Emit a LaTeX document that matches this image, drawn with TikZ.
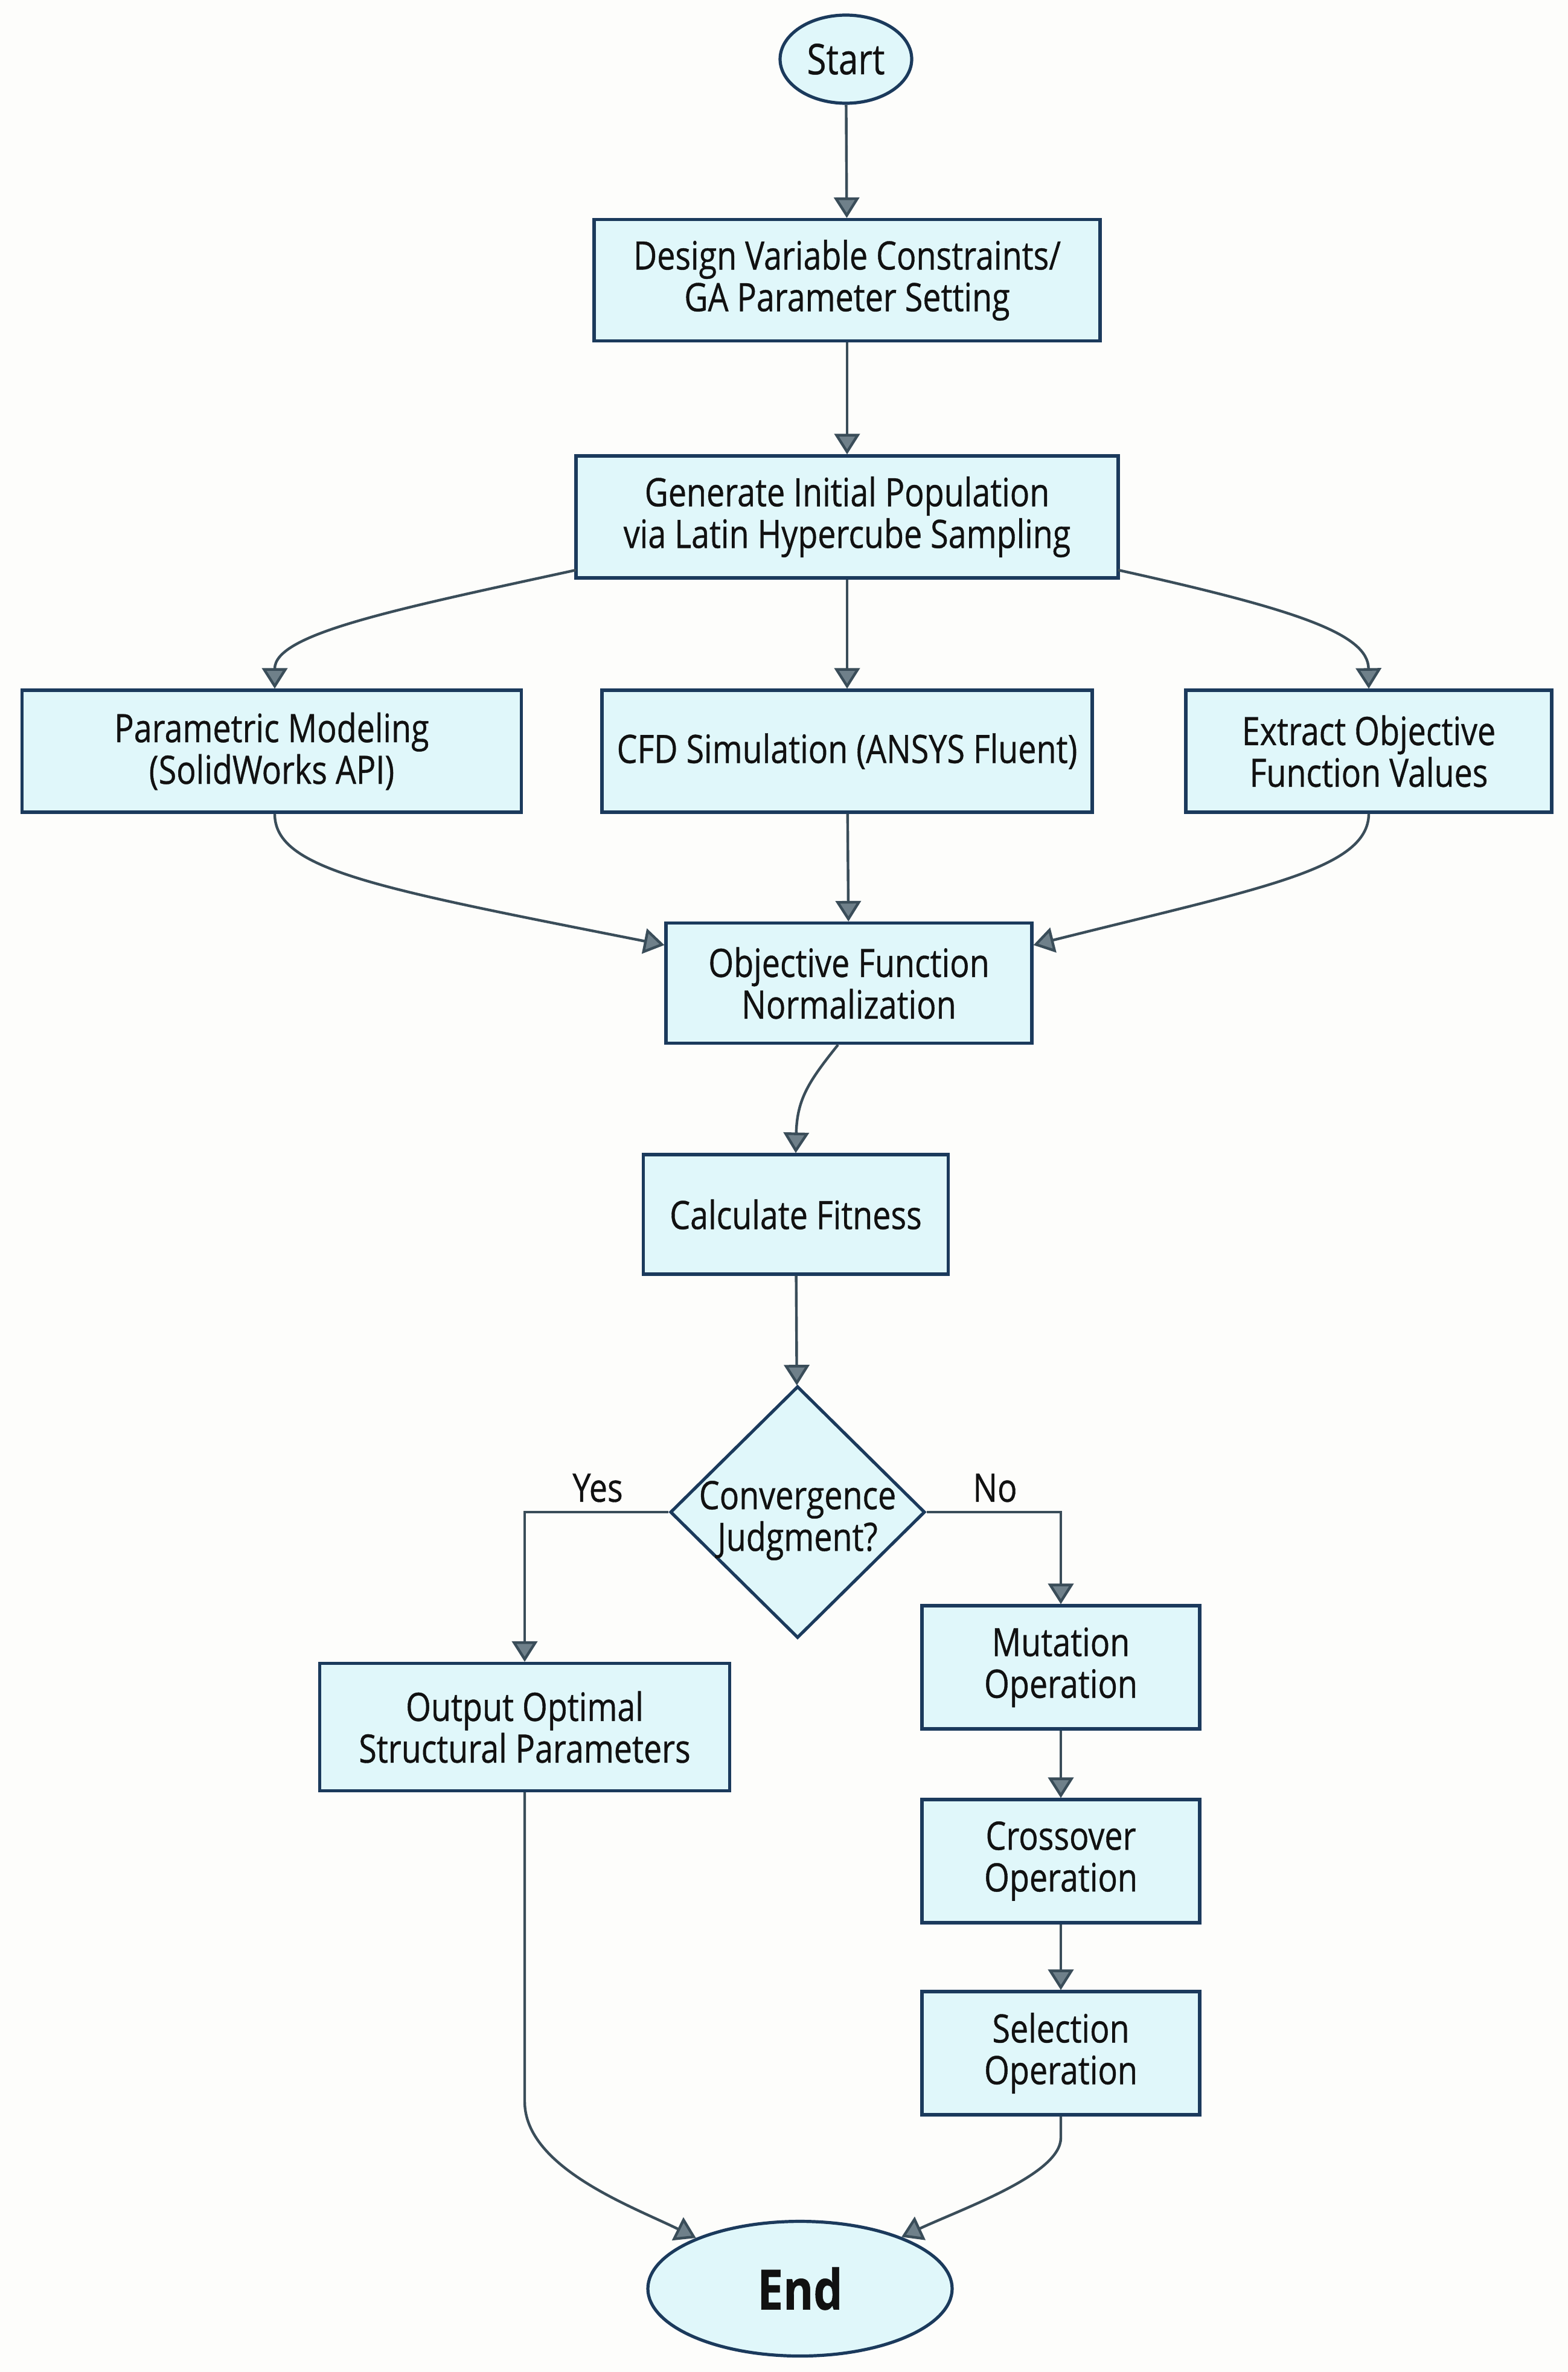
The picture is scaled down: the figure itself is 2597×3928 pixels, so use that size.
\documentclass[tikz,border=0pt]{standalone}
\usepackage{fontspec}
\setmainfont{Open Sans}[FakeStretch=0.83,FakeBold=0.6]
\usetikzlibrary{shapes.geometric,arrows.meta,calc}
\definecolor{boxfill}{HTML}{E0F7FA}
\definecolor{bordercol}{HTML}{1B3A5C}
\definecolor{arrcol}{HTML}{3A4D59}
\definecolor{tipfill}{HTML}{6F808A}
\definecolor{bgcol}{HTML}{FDFDFB}
\definecolor{txtcol}{HTML}{111111}
\begin{document}
\begin{tikzpicture}[x=0.25pt,y=-0.25pt,
  every node/.style={text=txtcol},
  txt/.style={font=\fontsize{16.2}{17.25}\selectfont},
  box/.style={txt, draw=bordercol, line width=1.3pt, fill=boxfill, align=center, inner sep=0pt, rectangle},
  oval/.style={box, ellipse},
  dec/.style={draw=bordercol, line width=1.3pt, fill=boxfill, diamond, inner sep=0pt},
  arr/.style={draw=arrcol, line width=1.1pt, -{Triangle[width=10.5pt,length=8.5pt,fill=tipfill]}},
  lbl/.style={txt}
]
\fill[bgcol] (0,0) rectangle (2597,3928);
\useasboundingbox (0,0) rectangle (2597,3928);

\node[oval, minimum width=54.5pt, minimum height=36.5pt, font=\fontsize{17.5}{20}\selectfont] (start) at (1401,98) {Start};
\node[box, minimum width=209.5pt, minimum height=50.25pt] (b1) at (1403,464) {Design Variable Constraints/\\GA Parameter Setting};
\node[box, minimum width=224.5pt, minimum height=50.5pt] (b2) at (1403,856) {Generate Initial Population\\via Latin Hypercube Sampling};
\node[box, minimum width=206.75pt, minimum height=50.5pt] (b3a) at (450,1244) {Parametric Modeling\\(SolidWorks API)};
\node[box, minimum width=203pt, minimum height=50.5pt] (b3b) at (1403,1244) {CFD Simulation (ANSYS Fluent)};
\node[box, minimum width=151.5pt, minimum height=50.5pt] (b3c) at (2267,1244) {Extract Objective\\Function Values};
\node[box, minimum width=151.5pt, minimum height=49.75pt] (b4) at (1406,1628) {Objective Function\\Normalization};
\node[box, minimum width=126.25pt, minimum height=49.5pt] (b5) at (1318,2011) {Calculate Fitness};
\node[dec, minimum width=105.5pt, minimum height=104.25pt] (dia) at (1321,2504) {};
\node[txt, align=center] (diatext) at (1321,2518) {Convergence\\Judgment?};
\node[box, minimum width=169.75pt, minimum height=52.75pt] (out) at (869,2860) {Output Optimal\\Structural Parameters};
\node[box, minimum width=115pt, minimum height=51pt] (mut) at (1757,2761) {Mutation\\Operation};
\node[box, minimum width=115pt, minimum height=51pt] (cro) at (1757,3082) {Crossover\\Operation};
\node[box, minimum width=115pt, minimum height=51pt] (sel) at (1757,3400) {Selection\\Operation};
\node[oval, minimum width=126pt, minimum height=55.75pt, font=\fontsize{23}{26}\selectfont\bfseries] (end) at (1325,3790) {End};

\node[lbl] (yes) at (990,2464) {Yes};
\node[lbl] (no) at (1648,2464) {No};

\coordinate (b2l) at (954,944);
\coordinate (b2r) at (1852,944);
\coordinate (outbend) at (869,3480);
\coordinate (selbend) at (1757,3540);

\draw[arr] (start) -- (b1);
\draw[arr] (b1) -- (b2);
\draw[arr] (b2) -- (b3b);
\draw[arr] (b2l) .. controls (650,1010) and (455,1050) .. (b3a.north -| 455,0);
\draw[arr] (b2r) .. controls (2150,1010) and (2266,1050) .. (b3c.north);
\draw[arr] (b3a.south -| 455,0) .. controls (455,1440) and (620,1470) .. (b4.west |- 0,1565);
\draw[arr] (b3c.south) .. controls (2266,1440) and (2090,1470) .. (b4.east |- 0,1565);
\draw[arr] (b3b) -- (b4);
\draw[arr] (b4.south -| 1388,0) .. controls (1340,1790) and (1320,1820) .. (b5.north);
\draw[arr] (b5) -- (dia);
\draw[arr] (dia.west) -| (out.north);
\draw[arr] (dia.east) -| (mut.north);
\draw[arr] (mut) -- (cro);
\draw[arr] (cro) -- (sel);
\draw[arr] (out.south) -- (outbend) .. controls (869,3590) and (1050,3655) .. (end.154);
\draw[arr] (sel.south) -- (selbend) .. controls (1757,3600) and (1600,3655) .. (end.27);
\end{tikzpicture}
\end{document}
